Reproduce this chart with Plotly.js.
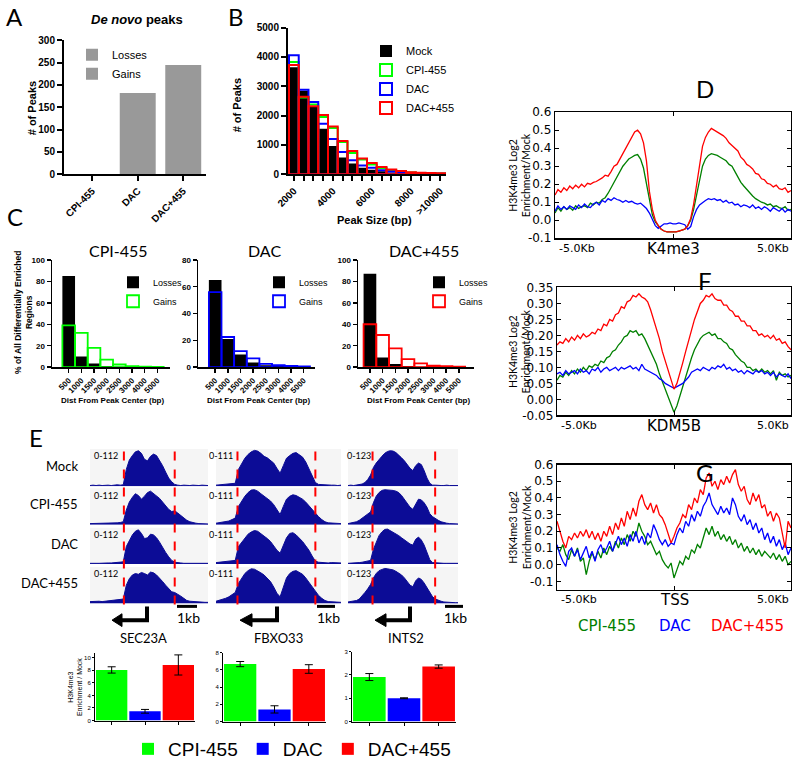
<!DOCTYPE html>
<html><head><meta charset="utf-8">
<script src="https://cdn.plot.ly/plotly-3.0.1.min.js"></script>
<style>html,body{margin:0;padding:0;background:#fff}#chart{width:800px;height:768px}</style>
</head><body><div id="chart"></div><script>
// ---------- Panel A ----------
const groupsA = ['CPI-455','DAC','DAC+455'];
const lossesA = [0,0,0];
const gainsA = [0,182,245];
// ---------- Panel B ----------
const sizeBins = ['2000','2500','3000','3500','4000','4500','5000','5500','6000','6500','7000','7500','8000','8500','9000','>10000'];
const sizeTickText = ['2000','','','','4000','','','','6000','','','','8000','','','>10000'];
const mockB  = [3650,2850,2300,1550,960,570,370,220,150,100,60,40,25,20,15,10];
const cpiB   = [3830,2620,2380,1950,1580,1100,720,500,330,210,130,90,60,45,30,25];
const dacB   = [4060,2880,2460,1720,1200,760,480,300,220,140,90,60,40,30,20,15];
const comboB = [3720,2640,2320,2020,1630,1130,790,540,380,250,160,110,70,50,40,30];
// ---------- Panel C ----------
const distBins = ['500','1000','1500','2000','2500','3000','4000','5000'];
const lossCPI   = [85,10,3.5,1,0.5,0.3,0.2,0.1];
const gainCPI   = [39,32,18,7,2.5,1,0.5,0.3];
const lossDAC   = [65,21,9.5,3.5,1.5,0.8,0.5,0.2];
const gainDAC   = [56,22.5,12,6.5,2.5,1.5,1,0.5];
const lossCombo = [87,9,3,1,0.5,0.3,0.2,0.1];
const gainCombo = [40,30,17.5,7.5,3.5,1.5,1,0.5];
// ---------- Panels D, F, G (profiles, -5kb..+5kb) ----------
const D_red = [0.14,0.17,0.155,0.18,0.165,0.19,0.175,0.195,0.18,0.2,0.185,0.205,0.2,0.21,0.215,0.225,0.235,0.25,0.245,0.27,0.3,0.31,0.34,0.37,0.4,0.43,0.46,0.49,0.5,0.48,0.43,0.33,0.16,0.06,0.0,-0.03,-0.05,-0.06,-0.065,-0.065,-0.065,-0.065,-0.06,-0.055,-0.05,-0.03,0.01,0.09,0.2,0.31,0.41,0.46,0.49,0.51,0.5,0.49,0.48,0.47,0.455,0.43,0.415,0.4,0.385,0.35,0.335,0.31,0.3,0.285,0.26,0.255,0.23,0.225,0.205,0.2,0.185,0.195,0.175,0.17,0.18,0.155,0.165];
const D_green = [0.04,0.07,0.05,0.075,0.06,0.07,0.055,0.08,0.065,0.075,0.08,0.07,0.095,0.085,0.1,0.095,0.115,0.125,0.15,0.18,0.21,0.24,0.27,0.3,0.32,0.34,0.35,0.36,0.365,0.34,0.29,0.2,0.1,0.03,-0.01,-0.03,-0.05,-0.06,-0.065,-0.065,-0.065,-0.065,-0.06,-0.055,-0.05,-0.03,0.0,0.06,0.14,0.23,0.3,0.34,0.36,0.37,0.365,0.36,0.35,0.34,0.33,0.31,0.3,0.27,0.24,0.21,0.19,0.17,0.15,0.135,0.12,0.11,0.1,0.095,0.085,0.09,0.075,0.08,0.07,0.065,0.075,0.055,0.06];
const D_blue = [0.05,0.08,0.06,0.075,0.06,0.08,0.07,0.06,0.085,0.07,0.09,0.075,0.07,0.09,0.1,0.085,0.11,0.1,0.12,0.11,0.125,0.115,0.11,0.1,0.11,0.1,0.105,0.095,0.09,0.095,0.08,0.065,0.04,0.0,-0.03,-0.045,-0.03,-0.02,-0.02,-0.015,-0.02,-0.02,-0.015,-0.02,-0.025,-0.05,-0.035,0.02,0.06,0.085,0.1,0.11,0.12,0.115,0.12,0.11,0.115,0.1,0.11,0.095,0.1,0.085,0.09,0.075,0.085,0.08,0.07,0.085,0.065,0.075,0.06,0.075,0.065,0.05,0.07,0.06,0.05,0.065,0.045,0.06,0.05];
const F_red = [0.17,0.18,0.175,0.19,0.18,0.195,0.185,0.2,0.19,0.205,0.195,0.2,0.21,0.205,0.22,0.215,0.235,0.23,0.25,0.245,0.265,0.27,0.29,0.285,0.305,0.31,0.325,0.32,0.33,0.32,0.315,0.305,0.28,0.25,0.22,0.19,0.15,0.12,0.09,0.055,0.032,0.05,0.08,0.115,0.15,0.185,0.22,0.25,0.275,0.3,0.31,0.325,0.32,0.33,0.315,0.31,0.31,0.295,0.295,0.28,0.275,0.26,0.26,0.245,0.245,0.23,0.23,0.215,0.215,0.2,0.205,0.195,0.2,0.19,0.2,0.185,0.19,0.175,0.18,0.165,0.155];
const F_green = [0.06,0.075,0.07,0.085,0.075,0.09,0.08,0.095,0.085,0.1,0.09,0.105,0.1,0.11,0.105,0.12,0.115,0.13,0.135,0.15,0.155,0.17,0.18,0.195,0.2,0.215,0.21,0.215,0.2,0.205,0.19,0.17,0.15,0.13,0.11,0.08,0.055,0.03,0.005,-0.02,-0.04,-0.02,0.01,0.045,0.075,0.1,0.13,0.155,0.175,0.19,0.2,0.205,0.21,0.2,0.205,0.19,0.19,0.18,0.175,0.16,0.155,0.14,0.13,0.12,0.115,0.1,0.1,0.09,0.095,0.085,0.095,0.085,0.09,0.08,0.09,0.06,0.085,0.075,0.08,0.07,0.075];
const F_blue = [0.08,0.085,0.075,0.09,0.08,0.085,0.09,0.08,0.095,0.085,0.09,0.08,0.095,0.09,0.1,0.085,0.095,0.1,0.09,0.095,0.1,0.09,0.1,0.095,0.1,0.105,0.095,0.1,0.09,0.11,0.095,0.09,0.085,0.08,0.075,0.065,0.06,0.05,0.045,0.04,0.035,0.04,0.045,0.05,0.06,0.07,0.085,0.09,0.095,0.09,0.1,0.095,0.09,0.1,0.095,0.105,0.1,0.11,0.095,0.1,0.09,0.095,0.085,0.09,0.08,0.09,0.085,0.08,0.09,0.085,0.09,0.08,0.085,0.075,0.085,0.07,0.08,0.075,0.07,0.08,0.065];
const G_red = [0.26,0.2,0.14,0.1,0.17,0.15,0.19,0.16,0.2,0.17,0.21,0.16,0.2,0.15,0.19,0.14,0.2,0.17,0.23,0.18,0.25,0.21,0.28,0.23,0.32,0.27,0.34,0.29,0.38,0.42,0.36,0.33,0.37,0.31,0.36,0.3,0.28,0.24,0.19,0.13,0.17,0.22,0.25,0.3,0.28,0.36,0.33,0.4,0.37,0.45,0.42,0.52,0.55,0.47,0.5,0.45,0.51,0.48,0.53,0.49,0.54,0.57,0.48,0.44,0.47,0.39,0.36,0.43,0.38,0.42,0.34,0.36,0.29,0.32,0.26,0.31,0.28,0.2,0.1,0.26,0.22];
const G_blue = [0.12,0.06,0.02,-0.01,0.08,0.1,0.05,0.09,0.03,0.07,0.11,0.04,0.08,0.02,0.09,0.12,0.07,0.1,0.14,0.08,0.13,0.17,0.12,0.16,0.11,0.18,0.14,0.2,0.13,0.17,0.12,0.19,0.16,0.24,0.2,0.15,0.12,0.15,0.11,0.13,0.12,0.18,0.22,0.19,0.26,0.23,0.3,0.26,0.32,0.29,0.35,0.38,0.43,0.36,0.33,0.3,0.35,0.31,0.34,0.3,0.4,0.36,0.29,0.26,0.3,0.24,0.27,0.21,0.25,0.19,0.22,0.15,0.19,0.13,0.17,0.11,0.15,0.09,0.13,0.06,0.1];
const G_green = [0.1,0.08,0.12,0.06,0.03,0.09,0.05,0.1,0.02,0.04,-0.06,0.02,0.07,0.03,0.08,0.04,0.1,0.06,0.11,0.08,0.14,0.1,0.16,0.12,0.18,0.14,0.2,0.17,0.25,0.2,0.17,0.12,0.14,0.1,0.06,0.08,0.03,0.0,-0.02,0.01,-0.08,-0.03,0.02,0.0,0.05,0.03,0.09,0.07,0.12,0.1,0.16,0.22,0.18,0.23,0.17,0.2,0.15,0.18,0.14,0.17,0.12,0.15,0.1,0.13,0.08,0.11,0.07,0.1,0.06,0.09,0.05,0.08,0.06,0.04,0.07,0.03,0.06,0.02,0.05,0.0,0.02];
const profTickVals = [0,40,80];
const D_ticks = [-0.1,0,0.1,0.2,0.3,0.4,0.5,0.6];
const D_tickText = ['-0.1','0.0','0.1','0.2','0.3','0.4','0.5','0.6'];
const F_ticks = [-0.05,0,0.05,0.1,0.15,0.2,0.25,0.3,0.35];
const F_tickText = ['-0.05','0.00','0.05','0.10','0.15','0.20','0.25','0.30','0.35'];
const G_ticks = [-0.1,0,0.1,0.2,0.3,0.4,0.5,0.6];
const G_tickText = ['-0.1','0.0','0.1','0.2','0.3','0.4','0.5','0.6'];
// ---------- Panel E tracks ----------
const trackRows = ['Mock','CPI-455','DAC','DAC+455'];
const geneNames = ['SEC23A','FBXO33','INTS2'];
const trackScales = ['0-112','0-111','0-123'];
const geneBounds = [[11.2,28],[6.7,31],[8.7,30.9]];
const c1_mock  = [2,3,2,3,2,3,3,2,3,4,3,4,45,70,82,92,95,88,72,68,80,86,82,70,55,38,22,12,5,3,2,3,2,2,3,2,2,3,2,2];
const c1_cpi   = [3,3,4,3,4,3,4,5,4,5,6,8,40,62,75,85,80,70,78,88,92,85,80,72,62,52,42,36,38,32,25,18,12,8,5,4,3,3,3,2];
const c1_dac   = [2,3,2,2,3,4,3,3,4,3,5,6,48,66,80,90,94,84,70,72,82,80,72,60,45,32,20,10,5,3,3,2,2,3,2,2,2,3,2,2];
const c1_combo = [5,6,5,6,5,6,7,6,7,8,9,12,50,68,78,82,80,85,82,78,86,84,78,70,60,50,40,32,30,26,20,14,8,6,5,6,5,4,3,3];
const c2_mock  = [3,4,3,4,5,6,8,45,62,75,85,92,96,94,88,80,76,70,62,48,35,55,75,82,88,90,85,78,65,48,30,10,5,4,3,4,3,3,2,3];
const c2_cpi   = [4,5,6,8,10,14,18,50,65,78,88,95,96,92,85,78,72,65,55,42,28,50,70,78,82,80,76,70,62,52,42,30,22,14,8,5,4,3,3,3];
const c2_dac   = [4,5,4,5,6,8,10,48,60,72,82,88,92,90,84,76,70,62,50,38,30,52,72,84,86,80,72,62,50,38,22,8,5,4,3,3,4,3,3,3];
const c2_combo = [6,8,10,14,18,24,30,55,70,82,90,95,94,90,84,78,70,60,45,28,18,45,70,82,88,90,86,80,70,58,45,32,22,14,8,5,4,4,3,3];
const c3_mock  = [2,3,2,3,4,6,10,18,30,50,62,72,80,88,93,95,94,90,84,76,68,58,48,42,55,62,58,42,22,8,3,3,2,2,2,3,2,2,2,2];
const c3_cpi   = [3,4,5,8,12,18,24,28,35,60,78,88,94,96,96,95,94,92,88,80,70,60,48,42,58,70,68,60,48,30,22,16,12,8,5,4,3,3,3,2];
const c3_dac   = [2,2,3,3,4,5,6,8,10,40,62,78,88,95,96,92,88,84,78,72,66,60,55,52,68,74,66,52,32,12,4,3,3,2,2,2,2,2,2,2];
const c3_combo = [4,5,6,8,12,20,30,40,52,70,82,90,94,96,95,94,92,88,84,78,70,60,50,46,62,70,66,56,42,28,18,12,8,6,4,3,3,3,2,2];
// ---------- Panel E bars ----------
const conditions = ['CPI-455','DAC','DAC+455'];
const enrichCPI   = [8.05,6.67,1.91];
const errCPI      = [0.5,0.3,0.15];
const enrichDAC   = [1.47,1.41,1.0];
const errDAC      = [0.3,0.42,0.02];
const enrichCombo = [8.84,6.1,2.36];
const errCombo    = [1.6,0.5,0.07];
const barTicks = [[0,2,4,6,8,10],[0,2,4,6,8],[0,1,2,3]];

// ================= drawing =================
const W = 800, H = 768;
const PR = 'Liberation Sans, Arial, sans-serif';
const MPL = 'DejaVu Sans, sans-serif';
const CAL = 'Lato, Liberation Sans, sans-serif';
const px = v => v / W, py = v => 1 - v / H;
const xd = (a, b) => [a / W, b / W];
const yd = (t, b) => [1 - b / H, 1 - t / H];
const GREEN = '#00ff00', BLUE = '#0000ff', RED = '#ff0000';
const MGREEN = '#008000';

const layout = {width: W, height: H, margin: {l:0, r:0, t:0, b:0}, paper_bgcolor: '#fff', plot_bgcolor: 'rgba(0,0,0,0)',
  barmode: 'overlay', showlegend: true, annotations: [], shapes: []};
const data = [];
const ax = n => (n === 1 ? '' : n);
function addAxis(n, xdom, ydom, xo, yo) {
  layout['xaxis' + ax(n)] = Object.assign({domain: xd(...xdom), anchor: 'y' + ax(n), showgrid: false, zeroline: false}, xo);
  layout['yaxis' + ax(n)] = Object.assign({domain: yd(...ydom), anchor: 'x' + ax(n), showgrid: false, zeroline: false}, yo);
}
function ann(x, y, text, font, o) {
  layout.annotations.push(Object.assign({xref: 'paper', yref: 'paper', x: px(x), y: py(y), text: text, showarrow: false,
    xanchor: 'center', yanchor: 'middle', font: Object.assign({color: '#000'}, font)}, o || {}));
}
const boldF = s => ({family: PR, size: s, weight: 'bold', color: '#000'});
const prism = (o) => Object.assign({showline: true, linecolor: '#000', linewidth: 2, ticks: 'outside', ticklen: 5, tickwidth: 2, tickcolor: '#000'}, o);

// ---- A ----
addAxis(1, [64, 206], [41, 177],
  prism({type: 'category', categoryarray: groupsA, range: [-0.62, 2.5], tickangle: -45, tickfont: boldF(10)}),
  prism({range: [0, 300], tickvals: [0,50,100,150,200,250,300], tickfont: boldF(10)}));
data.push({type: 'bar', x: groupsA, y: lossesA, width: 0.79, name: 'Losses', marker: {color: '#999999'}, xaxis: 'x', yaxis: 'y', legend: 'legend'});
data.push({type: 'bar', x: groupsA, y: gainsA, width: 0.79, name: 'Gains', marker: {color: '#999999'}, xaxis: 'x', yaxis: 'y', legend: 'legend'});
layout.legend = {x: px(72), y: py(41), xanchor: 'left', yanchor: 'top', font: {family: PR, size: 11, color: '#000'}, bgcolor: 'rgba(0,0,0,0)', tracegroupgap: 0, traceorder: 'normal'};
ann(14, 17, 'A', {family: CAL, size: 24});
ann(137, 20, '<i>De novo</i> peaks', boldF(13));
ann(32, 110, '# of Peaks', boldF(11), {textangle: -90});

// ---- B ----
addAxis(2, [288, 446], [28, 177],
  prism({type: 'category', categoryarray: sizeBins, range: [-0.6, 15.6], tickmode: 'array', tickvals: sizeBins, ticktext: sizeTickText, tickangle: -45, tickfont: boldF(10)}),
  prism({range: [0, 5000], tickvals: [0,1000,2000,3000,4000,5000], tickfont: boldF(10)}));
data.push({type: 'bar', x: sizeBins, y: mockB, width: 1, name: 'Mock', marker: {color: '#000', line: {width: 0}}, xaxis: 'x2', yaxis: 'y2', legend: 'legend2'});
[[cpiB, 'CPI-455', GREEN], [dacB, 'DAC', BLUE], [comboB, 'DAC+455', RED]].forEach(([v, n, c]) =>
  data.push({type: 'bar', x: sizeBins, y: v, width: 1, name: n, marker: {color: 'rgba(0,0,0,0)', line: {color: c, width: 2}}, xaxis: 'x2', yaxis: 'y2', legend: 'legend2'}));
layout.legend2 = {x: px(366), y: py(37), xanchor: 'left', yanchor: 'top', font: {family: PR, size: 11, color: '#000'}, bgcolor: 'rgba(0,0,0,0)', traceorder: 'normal'};
ann(236, 17, 'B', {family: CAL, size: 24});
ann(237, 107, '# of Peaks', boldF(11), {textangle: -90});
ann(374, 223, 'Peak Size (bp)', boldF(11));

// ---- C ----
const cDefs = [
  {n: 3, x: [52, 170], range: [-1.32, 8.0], yr: [0, 100], yt: [0,20,40,60,80,100], loss: lossCPI, gain: gainCPI, col: GREEN, title: 'CPI-455', leg: 'legend3'},
  {n: 4, x: [198, 315], range: [-1.36, 7.9], yr: [0, 80], yt: [0,20,40,60,80], loss: lossDAC, gain: gainDAC, col: BLUE, title: 'DAC', leg: 'legend4'},
  {n: 5, x: [358, 474], range: [-0.94, 8.2], yr: [0, 100], yt: [0,20,40,60,80,100], loss: lossCombo, gain: gainCombo, col: RED, title: 'DAC+455', leg: 'legend5'}
];
cDefs.forEach(c => {
  addAxis(c.n, c.x, [264, 373],
    prism({type: 'category', categoryarray: distBins, range: c.range, tickangle: -45, tickfont: boldF(8), linewidth: 1.5, tickwidth: 1.5, ticklen: 4}),
    prism({range: c.yr, tickvals: c.yt, tickfont: boldF(8), linewidth: 1.5, tickwidth: 1.5, ticklen: 4}));
  data.push({type: 'bar', x: distBins, y: c.loss, width: 1, name: 'Losses', marker: {color: '#000', line: {width: 0}}, xaxis: 'x' + c.n, yaxis: 'y' + c.n, legend: c.leg});
  data.push({type: 'bar', x: distBins, y: c.gain, width: 1, name: 'Gains', marker: {color: 'rgba(0,0,0,0)', line: {color: c.col, width: 1.8}}, xaxis: 'x' + c.n, yaxis: 'y' + c.n, legend: c.leg});
  layout[c.leg] = {x: px(c.x[0] + 61), y: py(272), xanchor: 'left', yanchor: 'top', font: {family: PR, size: 9, color: '#000'}, bgcolor: 'rgba(0,0,0,0)', traceorder: 'normal'};
  ann(c.x[0] + 66, 254, c.title, {family: CAL, size: 16});
  ann(c.x[0] + 60, 407, 'Dist From Peak Center (bp)', boldF(8));
});
ann(15, 220, 'C', {family: CAL, size: 24});
ann(23, 318, '% of All Differentially Enriched<br>Regions', boldF(8.5), {textangle: -90});

// ---- D / F / G ----
const mplY = (ticks, txt, rng) => ({range: rng, showline: true, mirror: 'ticks', linecolor: '#000', linewidth: 1.3, ticks: 'inside', ticklen: 4, tickcolor: '#000',
  tickmode: 'array', tickvals: ticks, ticktext: txt, tickfont: {family: MPL, size: 12, color: '#000'}});
const mplX = () => ({range: [0, 80], showline: true, mirror: 'ticks', linecolor: '#000', linewidth: 1.3, ticks: 'inside', ticklen: 4, tickcolor: '#000',
  tickmode: 'array', tickvals: profTickVals, showticklabels: false});
const profiles = [
  {n: 6, x: [555, 791], y: [114, 242], yt: D_ticks, ytt: D_tickText, rng: [-0.1, 0.6], lines: [[D_green, MGREEN], [D_blue, BLUE], [D_red, RED]], center: 'K4me3', letter: 'D', ly: 90},
  {n: 7, x: [557, 791], y: [292, 422], yt: F_ticks, ytt: F_tickText, rng: [-0.05, 0.35], lines: [[F_green, MGREEN], [F_blue, BLUE], [F_red, RED]], center: 'KDM5B', letter: 'F', ly: 285},
  {n: 8, x: [557, 791], y: [472, 599], yt: G_ticks, ytt: G_tickText, rng: [-0.15, 0.6], lines: [[G_green, MGREEN], [G_blue, BLUE], [G_red, RED]], center: 'TSS', letter: 'G', ly: 480}
];
profiles.forEach(p => {
  addAxis(p.n, p.x, p.y, mplX(), mplY(p.yt, p.ytt, p.rng));
  p.lines.forEach(([v, c]) => data.push({type: 'scatter', mode: 'lines', y: v, line: {color: c, width: 1.3}, showlegend: false, xaxis: 'x' + p.n, yaxis: 'y' + p.n, hoverinfo: 'skip'}));
  const ly = p.y[1] + 10;
  ann(p.x[0] + 2, ly, '-5.0Kb', {family: MPL, size: 11}, {xanchor: 'left'});
  ann(p.x[1], ly, '5.0Kb', {family: MPL, size: 11}, {xanchor: 'right'});
  ann((p.x[0] + p.x[1]) / 2, ly + 1, p.center, {family: MPL, size: 15});
  ann(705, p.ly, p.letter, {family: CAL, size: 24});
  ann(520, (p.y[0] + p.y[1]) / 2, 'H3K4me3 Log2<br>Enrichment/Mock', {family: CAL, size: 10.5}, {textangle: -90});
});
ann(607, 636, 'CPI-455', {family: MPL, size: 15, color: MGREEN});
ann(675, 636, 'DAC', {family: MPL, size: 15, color: BLUE});
ann(747, 636, 'DAC+455', {family: MPL, size: 15, color: RED});

// ---- E tracks ----
const tracks = [[c1_mock, c1_cpi, c1_dac, c1_combo], [c2_mock, c2_cpi, c2_dac, c2_combo], [c3_mock, c3_cpi, c3_dac, c3_combo]];
const colX = [[90, 208], [216, 341], [348, 458]];
const scaleLabelX = [92, 207, 345];
const rowY = [[456, 494], [496, 533], [536, 573], [576, 613]];
const TRACK = '#0c0c96';
tracks.forEach((col, ci) => {
  col.forEach((vals, ri) => {
    const n = 9 + ci * 4 + ri;
    addAxis(n, colX[ci], rowY[ri], {range: [0, 39], visible: false}, {range: [0, 100], visible: false});
    layout.shapes.push({type: 'rect', xref: 'x' + n + ' domain', yref: 'y' + n + ' domain', x0: 0, x1: 1, y0: 0, y1: 1, fillcolor: '#f5f5f5', line: {width: 0}, layer: 'below'});
    data.push({type: 'scatter', mode: 'lines', y: vals, fill: 'tozeroy', fillcolor: TRACK, line: {color: TRACK, width: 1}, showlegend: false, xaxis: 'x' + n, yaxis: 'y' + n, hoverinfo: 'skip'});
    ann(scaleLabelX[ci], rowY[ri][0] + 7, trackScales[ci], {family: CAL, size: 9}, {xanchor: 'left'});
  });
  const nb = 9 + ci * 4 + 3;
  geneBounds[ci].forEach(b => layout.shapes.push({type: 'line', xref: 'x' + nb, yref: 'paper', x0: b, x1: b, y0: py(614), y1: py(455), line: {color: RED, width: 2, dash: 'dash'}}));
});
trackRows.forEach((r, ri) => ann(80, (rowY[ri][0] + rowY[ri][1]) / 2 - 2, r, {family: CAL, size: 13}, {xanchor: 'right'}));
ann(36, 444, 'E', {family: CAL, size: 24});
// gene arrows, scale bars, gene names
const arrows = [[147, 122, 112], [277, 252, 240], [410, 386, 375]];
arrows.forEach(([vx, hb, tip]) => {
  layout.shapes.push({type: 'path', xref: 'paper', yref: 'paper', path: `M${px(vx)},${py(616)} L${px(vx)},${py(630)} L${px(hb)},${py(630)}`, line: {color: '#000', width: 4}});
  layout.shapes.push({type: 'path', xref: 'paper', yref: 'paper', path: `M${px(tip)},${py(630)} L${px(hb)},${py(623.5)} L${px(hb)},${py(636.5)} Z`, fillcolor: '#000', line: {color: '#000', width: 1}});
});
const scaleBars = [[177, 197], [317, 335], [445, 463]];
scaleBars.forEach(([a, b]) => {
  layout.shapes.push({type: 'line', xref: 'paper', yref: 'paper', x0: px(a), x1: px(b), y0: py(616), y1: py(616), line: {color: '#000', width: 3}});
  ann(a + 11, 627, '1kb', {family: CAL, size: 14});
});
[[143, 0], [278, 1], [406, 2]].forEach(([x, i]) => ann(x, 648, geneNames[i], {family: CAL, size: 13}));

// ---- E bars ----
const barDom = [[[95, 195], [663, 732], [0, 10.8]], [[223, 326], [663, 733], [0, 8]], [[352, 456], [662, 733], [0, 3]]];
barDom.forEach(([xx, yy, yr], gi) => {
  const n = 21 + gi;
  addAxis(n, xx, yy,
    {type: 'category', categoryarray: conditions, range: [-0.5, 2.5], showline: true, linecolor: '#000', linewidth: 1, ticks: 'outside', ticklen: 3, tickcolor: '#000', showticklabels: false},
    {range: yr, showline: true, linecolor: '#000', linewidth: 1, ticks: 'outside', ticklen: 2, tickcolor: '#000', tickvals: barTicks[gi], tickfont: {family: PR, size: 6, color: '#000'}});
  [[enrichCPI, errCPI, GREEN, 0], [enrichDAC, errDAC, BLUE, 1], [enrichCombo, errCombo, RED, 2]].forEach(([v, e, c, k]) =>
    data.push({type: 'bar', x: [conditions[k]], y: [v[gi]], width: 0.94, name: conditions[k], marker: {color: c, line: {width: 0}},
      error_y: {type: 'data', array: [e[gi]], visible: true, color: '#000', thickness: 1, width: 4},
      showlegend: gi === 0, legend: 'legend6', xaxis: 'x' + n, yaxis: 'y' + n}));
});
ann(75, 698, 'H3K4me3<br>Enrichment / Mock', {family: PR, size: 7}, {textangle: -90});
layout.legend6 = {orientation: 'h', x: px(128), y: py(742), xanchor: 'left', yanchor: 'top', font: {family: PR, size: 19, color: '#000'}, bgcolor: 'rgba(0,0,0,0)', traceorder: 'normal'};

Plotly.newPlot('chart', data, layout, {displayModeBar: false, staticPlot: true});
</script></body></html>
